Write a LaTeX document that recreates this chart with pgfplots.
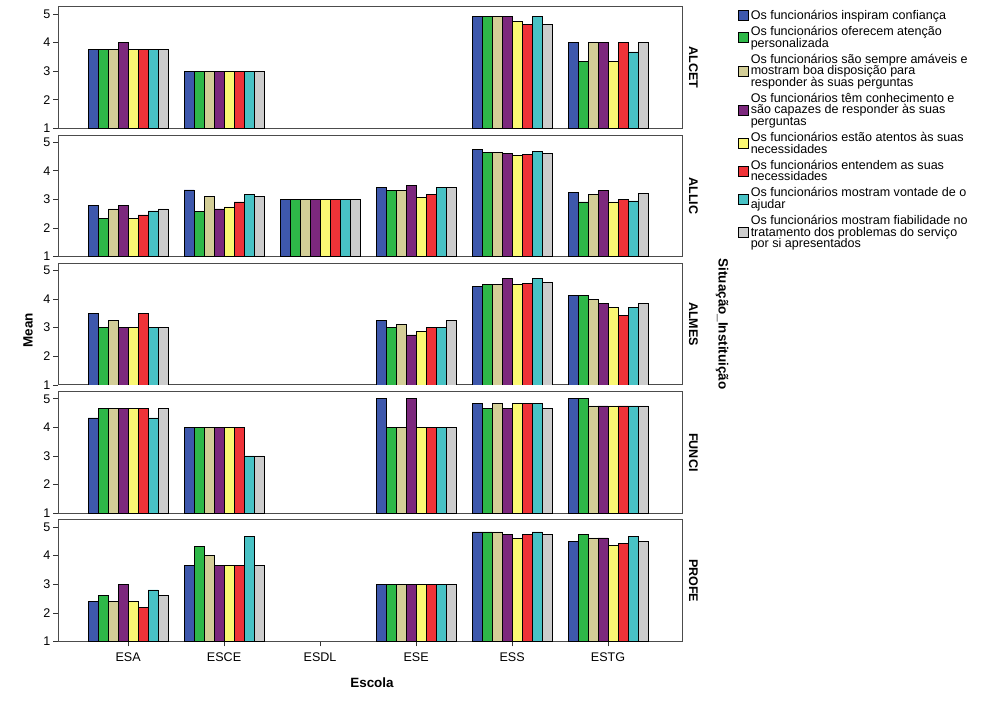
\documentclass[border=0pt]{standalone}
\usepackage{fontspec}
\setmainfont{Liberation Sans}
\usepackage{pgfplots}
\usepackage{pgfplotstable}
\pgfplotsset{compat=1.18}
\usepgfplotslibrary{groupplots}

\definecolor{c1}{HTML}{3E58AC}
\definecolor{c2}{HTML}{2EB848}
\definecolor{c3}{HTML}{D3CE97}
\definecolor{c4}{HTML}{7C287D}
\definecolor{c5}{HTML}{FBF873}
\definecolor{c6}{HTML}{EF3338}
\definecolor{c7}{HTML}{48C2C5}
\definecolor{c8}{HTML}{CCCCCC}

\pgfplotstableread{
x s1 s2 s3 s4 s5 s6 s7 s8
0 3.75 3.75 3.75 4 3.75 3.75 3.75 3.75
1 3 3 3 3 3 3 3 3
4 4.9 4.9 4.9 4.9 4.75 4.63 4.9 4.63
5 4 3.33 4 4 3.33 4 3.67 4
}\alcet
\pgfplotstableread{
x s1 s2 s3 s4 s5 s6 s7 s8
0 2.8 2.33 2.67 2.8 2.33 2.46 2.6 2.67
1 3.33 2.58 3.09 2.67 2.74 2.91 3.17 3.09
2 3 3 3 3 3 3 3 3
3 3.41 3.32 3.32 3.5 3.07 3.17 3.41 3.41
4 4.76 4.63 4.63 4.6 4.54 4.56 4.67 4.6
5 3.24 2.91 3.17 3.31 2.91 3.0 2.95 3.2
}\allic
\pgfplotstableread{
x s1 s2 s3 s4 s5 s6 s7 s8
0 3.5 3 3.25 3 3 3.5 3 3
3 3.25 3 3.11 2.75 2.88 3 3 3.25
4 4.43 4.5 4.5 4.71 4.5 4.56 4.71 4.57
5 4.14 4.14 4 3.86 3.71 3.43 3.71 3.86
}\almes
\pgfplotstableread{
x s1 s2 s3 s4 s5 s6 s7 s8
0 4.33 4.67 4.67 4.67 4.67 4.67 4.33 4.67
1 4 4 4 4 4 4 3 3
3 5 4 4 5 4 4 4 4
4 4.83 4.67 4.83 4.67 4.83 4.83 4.83 4.67
5 5 5 4.75 4.75 4.75 4.75 4.75 4.75
}\funci
\pgfplotstableread{
x s1 s2 s3 s4 s5 s6 s7 s8
0 2.4 2.6 2.4 3 2.4 2.2 2.8 2.6
1 3.67 4.33 4 3.67 3.67 3.67 4.67 3.67
3 3 3 3 3 3 3 3 3
4 4.83 4.83 4.83 4.75 4.6 4.75 4.83 4.75
5 4.5 4.75 4.62 4.62 4.35 4.42 4.67 4.5
}\profe

\newcommand\plotall[1]{%
\addplot[fill=c1] table[x=x,y=s1]{#1};
\addplot[fill=c2] table[x=x,y=s2]{#1};
\addplot[fill=c3] table[x=x,y=s3]{#1};
\addplot[fill=c4] table[x=x,y=s4]{#1};
\addplot[fill=c5] table[x=x,y=s5]{#1};
\addplot[fill=c6] table[x=x,y=s6]{#1};
\addplot[fill=c7] table[x=x,y=s7]{#1};
\addplot[fill=c8] table[x=x,y=s8]{#1};
}

\newcommand\fnt{\fontsize{12.6}{11.5}\selectfont\lineskiplimit=-20pt\relax}
\newcommand\bfnt{\fontsize{13.5}{14}\selectfont\bfseries}

\begin{document}
\begin{tikzpicture}[font=\fnt]
\begin{groupplot}[
  group style={group size=1 by 5, vertical sep=6.7bp,
    xticklabels at=edge bottom},
  width=624bp, height=121.6bp, scale only axis,
  xmin=-0.73, xmax=5.77, ymin=1, ymax=5.25,
  ytick={1,2,3,4,5},
  xtick={0,1,2,3,4,5},
  xticklabels={ESA,ESCE,ESDL,ESE,ESS,ESTG},
  ytick pos=left, xtick pos=bottom,
  tick align=outside, major tick length=5bp,
  tick style={black!80, line width=0.6bp},
  axis line style={black!70, line width=0.8bp},
  ybar=0pt, /pgf/bar width=10bp,
  every axis plot/.append style={draw=black, line width=0.6bp},
  /pgf/number format/assume math mode=true,
  tick label style={font=\fnt},
  yticklabel style={xshift=1bp},
  xticklabel style={yshift=-3bp},
  legend image code/.code={\draw[#1] (0bp,-5bp) rectangle (10bp,5bp);},
  legend cell align=left,
  legend style={at={(1.09,1.0)}, anchor=north west, yshift=-1.5bp,
    draw=none, fill=none,
    font=\fnt, row sep=1.5bp, inner sep=0pt, outer sep=0pt,
    cells={align=left}},
]
\nextgroupplot[xtick=\empty]
\addplot[fill=c1] table[x=x,y=s1]{\alcet};
\addlegendentry{Os funcionários inspiram confiança}
\addplot[fill=c2] table[x=x,y=s2]{\alcet};
\addlegendentry{Os funcionários oferecem atenção\\personalizada}
\addplot[fill=c3] table[x=x,y=s3]{\alcet};
\addlegendentry{Os funcionários são sempre amáveis e\\mostram boa disposição para\\responder às suas perguntas}
\addplot[fill=c4] table[x=x,y=s4]{\alcet};
\addlegendentry{Os funcionários têm conhecimento e\\são capazes de responder às suas\\perguntas}
\addplot[fill=c5] table[x=x,y=s5]{\alcet};
\addlegendentry{Os funcionários estão atentos às suas\\necessidades}
\addplot[fill=c6] table[x=x,y=s6]{\alcet};
\addlegendentry{Os funcionários entendem as suas\\necessidades}
\addplot[fill=c7] table[x=x,y=s7]{\alcet};
\addlegendentry{Os funcionários mostram vontade de o\\ajudar}
\addplot[fill=c8] table[x=x,y=s8]{\alcet};
\addlegendentry{Os funcionários mostram fiabilidade no\\tratamento dos problemas do serviço\\por si apresentados}
\coordinate (TL) at (rel axis cs:0,1);
\coordinate (R1) at (rel axis cs:1,0.5);

\nextgroupplot[xtick=\empty]
\plotall{\allic}
\coordinate (R2) at (rel axis cs:1,0.5);

\nextgroupplot[xtick=\empty]
\plotall{\almes}
\coordinate (ML) at (rel axis cs:0,0.45);
\coordinate (R3) at (rel axis cs:1,0.5);

\nextgroupplot[xtick=\empty]
\plotall{\funci}
\coordinate (R4) at (rel axis cs:1,0.5);

\nextgroupplot
\plotall{\profe}
\coordinate (BC) at (rel axis cs:0.5,0);
\coordinate (R5) at (rel axis cs:1,0.5);
\end{groupplot}
\path (R1) ++(11.5bp,0) node[rotate=-90,font=\fnt\bfseries] {ALCET};
\path (R2) ++(11.5bp,0) node[rotate=-90,font=\fnt\bfseries] {ALLIC};
\path (R3) ++(11.5bp,0) node[rotate=-90,font=\fnt\bfseries] {ALMES};
\path (R4) ++(11.5bp,0) node[rotate=-90,font=\fnt\bfseries] {FUNCI};
\path (R5) ++(11.5bp,0) node[rotate=-90,font=\fnt\bfseries] {PROFE};
\path (ML) ++(-30bp,0) node[rotate=90,font=\bfnt] {Mean};
\path (BC) ++(2bp,-41.5bp) node[font=\bfnt] {Escola};
\path (R3) ++(40bp,0) node[rotate=-90,font=\bfnt] {Situação\_Instituição};
\path (TL) ++(-58bp,6.7bp) rectangle ++(987bp,-707bp);
\end{tikzpicture}
\end{document}
